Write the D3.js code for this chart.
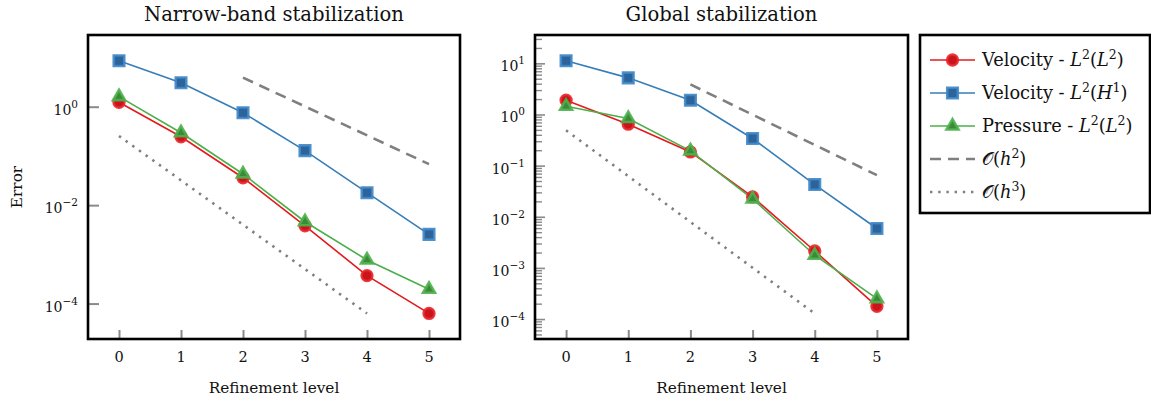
<!DOCTYPE html>
<html>
<head>
<meta charset="utf-8">
<script src="https://cdn.jsdelivr.net/npm/d3@7"></script>
<style>
  body { margin: 0; background: #fff; }
  svg { display: block; }
  text { font-family: "DejaVu Serif", serif; fill: #111; }
</style>
</head>
<body>
<svg id="chart" width="1151" height="403"></svg>
<script>
// Refinement levels on the x axis
const levels = [0, 1, 2, 3, 4, 5];

// Narrow-band stabilization errors
const narrowVelocityL2 = [1.23, 0.245, 0.036, 0.0038, 3.7e-4, 6.3e-5];
const narrowVelocityH1 = [8.6, 3.07, 0.755, 0.128, 0.0179, 0.00255];
const narrowPressureL2 = [1.6, 0.296, 0.043, 0.0046, 7.7e-4, 1.95e-4];

// Global stabilization errors
const globalVelocityL2 = [1.9, 0.646, 0.185, 0.0244, 0.00214, 1.77e-4];
const globalVelocityH1 = [11.2, 5.2, 1.9, 0.339, 0.0427, 0.0059];
const globalPressureL2 = [1.45, 0.835, 0.194, 0.0223, 0.00177, 2.5e-4];

// Reference slopes O(h^2) and O(h^3)
const orderTwoLevels = [2, 5];
const narrowOrderTwo = [3.9, 0.068];
const globalOrderTwo = [3.87, 0.065];
const orderThreeLevels = [0, 4];
const narrowOrderThree = [0.254, 6.3e-5];
const globalOrderThree = [0.49, 1.28e-4];

// Labelled y ticks
const narrowMajorTicks = [1, 1e-2, 1e-4];
const globalMajorTicks = [10, 1, 1e-1, 1e-2, 1e-3, 1e-4];

const titles = ["Narrow-band stabilization", "Global stabilization"];

const svg = d3.select("#chart");

const styles = {
  velL2: { line: "#e41a1c", fill: "#c8141a", stroke: "#e8262a", shape: d3.symbolCircle, size: 90 },
  velH1: { line: "#377eb8", fill: "#2c639a", stroke: "#3f87c6", shape: d3.symbolSquare, size: 110 },
  pres:  { line: "#4daf4a", fill: "#3b8a39", stroke: "#4fb14c", shape: d3.symbolTriangle, size: 62 }
};
const dashed = "11,7";
const dotted = "2.4,5.8";

const panels = [
  {
    title: titles[0], x0: 88, x1: 460, y0: 35, y1: 339,
    yTop: Math.pow(10, 1.457), yBottom: Math.pow(10, -4.72),
    majors: narrowMajorTicks, minors: false, yLabel: "Error",
    series: [
      { key: "velL2", values: narrowVelocityL2 },
      { key: "pres", values: narrowPressureL2 },
      { key: "velH1", values: narrowVelocityH1 }
    ],
    orderTwo: narrowOrderTwo, orderThree: narrowOrderThree
  },
  {
    title: titles[1], x0: 535, x1: 908, y0: 35, y1: 339,
    yTop: Math.pow(10, 1.554), yBottom: Math.pow(10, -4.39),
    majors: globalMajorTicks, minors: true, yLabel: null,
    series: [
      { key: "velL2", values: globalVelocityL2 },
      { key: "pres", values: globalPressureL2 },
      { key: "velH1", values: globalVelocityH1 }
    ],
    orderTwo: globalOrderTwo, orderThree: globalOrderThree
  }
];

function drawMarker(g, key, cx, cy) {
  const s = styles[key];
  g.append("path")
    .attr("d", d3.symbol().type(s.shape).size(s.size)())
    .attr("transform", `translate(${cx},${cy})`)
    .attr("fill", s.fill)
    .attr("stroke", s.stroke)
    .attr("stroke-width", 2.6)
    .attr("stroke-opacity", 0.9);
}

function powerLabel(sel, v) {
  const e = Math.round(Math.log10(v));
  sel.append("tspan").text("10");
  sel.append("tspan")
    .attr("font-size", "10.5px")
    .attr("dy", -7)
    .text(e < 0 ? "\u2212" + (-e) : String(e));
}

panels.forEach(p => {
  const g = svg.append("g");
  const x = d3.scaleLinear().domain([-0.5, 5.5]).range([p.x0, p.x1]);
  const y = d3.scaleLog().domain([p.yBottom, p.yTop]).range([p.y1, p.y0]);

  // title
  g.append("text")
    .attr("x", (p.x0 + p.x1) / 2).attr("y", 21)
    .attr("text-anchor", "middle")
    .attr("font-size", "19.6px")
    .text(p.title);

  // minor y ticks
  if (p.minors) {
    const minorVals = y.ticks().filter(v => {
      const l = Math.log10(v);
      return Math.abs(l - Math.round(l)) > 1e-6;
    });
    const minorAxis = d3.axisLeft(y).tickValues(minorVals).tickSize(-7).tickFormat("");
    const ma = g.append("g").attr("transform", `translate(${p.x0},0)`).call(minorAxis);
    ma.select(".domain").remove();
    ma.selectAll("line").attr("stroke", "#8a8a8a").attr("stroke-width", 1.4);
  }

  // major y ticks
  const majorAxis = d3.axisLeft(y).tickValues(p.majors).tickSize(p.minors ? -10 : -11).tickFormat("");
  const ya = g.append("g").attr("transform", `translate(${p.x0},0)`).call(majorAxis);
  ya.select(".domain").remove();
  ya.selectAll("line").attr("stroke", "#8a8a8a").attr("stroke-width", p.minors ? 1.6 : 2);

  p.majors.forEach(v => {
    const t = g.append("text")
      .attr("x", p.x0 - 10).attr("y", y(v) + 8)
      .attr("text-anchor", "end")
      .attr("font-size", "14px");
    powerLabel(t, v);
  });

  // x ticks
  const xAxis = d3.axisBottom(x).tickValues(levels).tickSize(-9).tickFormat("");
  const xa = g.append("g").attr("transform", `translate(0,${p.y1})`).call(xAxis);
  xa.select(".domain").remove();
  xa.selectAll("line").attr("stroke", "#8a8a8a").attr("stroke-width", 2);

  levels.forEach(l => {
    g.append("text")
      .attr("x", x(l)).attr("y", 362)
      .attr("text-anchor", "middle")
      .attr("font-size", "14.5px")
      .text(l);
  });

  g.append("text")
    .attr("x", (p.x0 + p.x1) / 2).attr("y", 393)
    .attr("text-anchor", "middle")
    .attr("font-size", "15.3px")
    .text("Refinement level");

  if (p.yLabel) {
    g.append("text")
      .attr("transform", `translate(22,${(p.y0 + p.y1) / 2}) rotate(-90)`)
      .attr("text-anchor", "middle")
      .attr("font-size", "15.3px")
      .text(p.yLabel);
  }

  const line = d3.line().x(d => x(d[0])).y(d => y(d[1]));

  // reference slopes
  g.append("path")
    .attr("d", line(orderTwoLevels.map((l, i) => [l, p.orderTwo[i]])))
    .attr("fill", "none").attr("stroke", "#7f7f7f")
    .attr("stroke-width", 2.6).attr("stroke-dasharray", dashed);
  g.append("path")
    .attr("d", line(orderThreeLevels.map((l, i) => [l, p.orderThree[i]])))
    .attr("fill", "none").attr("stroke", "#7f7f7f")
    .attr("stroke-width", 2.6).attr("stroke-dasharray", dotted);

  // series lines then markers
  p.series.forEach(s => {
    g.append("path")
      .attr("d", line(levels.map((l, i) => [l, s.values[i]])))
      .attr("fill", "none").attr("stroke", styles[s.key].line)
      .attr("stroke-width", 1.6);
  });
  p.series.forEach(s => {
    levels.forEach((l, i) => drawMarker(g, s.key, x(l), y(s.values[i])));
  });

  // frame
  g.append("rect")
    .attr("x", p.x0).attr("y", p.y0)
    .attr("width", p.x1 - p.x0).attr("height", p.y1 - p.y0)
    .attr("fill", "none").attr("stroke", "#000").attr("stroke-width", 2.6);
});

// legend
const legend = svg.append("g");
legend.append("rect")
  .attr("x", 920).attr("y", 35).attr("width", 230).attr("height", 178)
  .attr("fill", "#fff").attr("stroke", "#000").attr("stroke-width", 2.6);

const legendItems = [
  { key: "velL2", parts: [["Velocity - ", ""], ["L", "i"], ["2", "s"], ["(", ""], ["L", "i"], ["2", "s"], [")", ""]] },
  { key: "velH1", parts: [["Velocity - ", ""], ["L", "i"], ["2", "s"], ["(", ""], ["H", "i"], ["1", "s"], [")", ""]] },
  { key: "pres",  parts: [["Pressure - ", ""], ["L", "i"], ["2", "s"], ["(", ""], ["L", "i"], ["2", "s"], [")", ""]] },
  { key: "o2", parts: [["\uD835\uDCAA", ""], ["(", ""], ["h", "i"], ["2", "s"], [")", ""]] },
  { key: "o3", parts: [["\uD835\uDCAA", ""], ["(", ""], ["h", "i"], ["3", "s"], [")", ""]] }
];

legendItems.forEach((it, i) => {
  const cy = 60 + i * 33;
  const seg = legend.append("line")
    .attr("x1", 930).attr("x2", 975).attr("y1", cy).attr("y2", cy);
  if (styles[it.key]) {
    seg.attr("stroke", styles[it.key].line).attr("stroke-width", 1.6);
    drawMarker(legend, it.key, 952.5, cy);
  } else if (it.key === "o2") {
    seg.attr("stroke", "#7f7f7f").attr("stroke-width", 2.6).attr("stroke-dasharray", dashed);
  } else {
    seg.attr("stroke", "#7f7f7f").attr("stroke-width", 2.6).attr("stroke-dasharray", dotted);
  }
  const t = legend.append("text").attr("x", 982).attr("y", cy + 6).attr("font-size", "17.8px");
  let raised = false;
  it.parts.forEach(([str, kind]) => {
    const ts = t.append("tspan").text(str);
    if (kind === "i") ts.attr("font-style", "italic");
    if (kind === "s") {
      ts.attr("font-size", "12.5px").attr("dy", -7.5);
      raised = true;
    } else if (raised) {
      ts.attr("dy", 7.5);
      raised = false;
    }
  });
});
</script>
</body>
</html>
